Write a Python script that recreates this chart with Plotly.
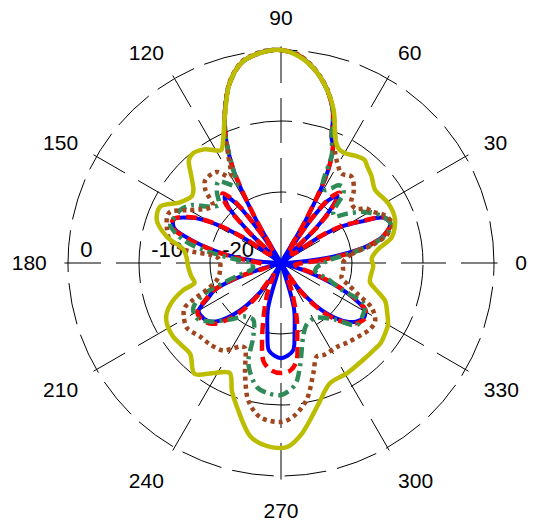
import plotly.graph_objects as go

# ---------------- data (dB) ----------------
theta_blue = [0, 4, 7, 11, 15, 20, 24, 27, 31, 34, 38, 42, 45, 47.5, 50, 53, 55.5, 58,
              60, 63, 66, 68, 71, 75, 80, 85, 90, 95, 101, 106, 111, 114, 117, 120, 122,
              124, 127, 130, 133, 136, 139, 143, 146, 149.5, 153, 158, 162, 166, 171.5, 176,
              180, 190, 196, 198, 202, 206, 210, 213, 218, 222, 227, 231, 236, 243,
              250, 254, 259, 262, 266, 270, 274, 278, 281, 286, 290,
              297, 304, 309, 313, 318, 322, 327, 331, 334, 338, 342, 346, 360]
r_blue = [-30, -27.3, -22.6, -17.7, -15, -13.6, -14.3, -17, -20, -23.4, -30, -30, -23, -19.5, -17.6, -19, -23, -30,
          -23, -15.5, -12, -11, -7.5, -4.8, -2.4, -0.7, 0, -0.2, -1.2, -3.7, -7.9, -11, -15.2, -23, -30,
          -25, -19.5, -17.7, -19, -24, -30, -30, -24, -19, -16, -13.7, -14.2, -17.3, -22.3, -27,
          -30, -30, -30, -24.5, -20, -18.5, -16.6, -16.5, -16.8, -17.7, -20, -22.4, -26, -30,
          -30, -23.4, -20, -17.6, -16.9, -16.6, -16.9, -17.6, -20, -23.4, -30,
          -30, -26, -22.4, -20, -17.7, -16.6, -16, -16.6, -18.5, -22, -26, -30, -30]

theta_red = [0, 4, 7, 11, 15, 20, 24, 27, 31, 34, 38, 42, 45, 47.5, 50, 53, 55.5, 58,
             60, 63, 66, 68, 71, 75, 80, 85, 90, 95, 101, 106, 111, 114, 117, 120, 122,
             124, 127, 130, 133, 136, 139, 143, 146, 149.5, 153, 158, 162, 166, 171.5, 176,
             180, 190, 196, 198, 202, 206, 210, 213, 218, 222, 227, 231, 234,
             238, 244, 250, 256, 260, 265, 270, 275, 279, 282, 286, 291, 296,
             300, 304, 309, 313, 318, 322, 327, 331, 334, 338, 342, 346, 353, 360]
r_red = [-27, -24.5, -21.5, -17.5, -15, -13.5, -14.2, -16.8, -19.8, -23, -28, -28, -22.5, -19, -17.1, -18.5, -22.5, -28,
         -23, -15.5, -12, -11, -7.5, -4.8, -2.4, -0.7, 0, -0.2, -1.2, -3.7, -7.9, -11, -15.2, -23, -28,
         -24.5, -19, -17.2, -18.5, -23.5, -28, -28, -23.5, -18.8, -15.8, -13.6, -14, -17, -22, -25.5,
         -27, -28, -28, -24, -19.8, -18.2, -16.4, -16.2, -16.5, -17.2, -19.2, -21.5, -24,
         -28, -26, -23.3, -19, -15.9, -14.8, -14.5, -14.8, -16, -19, -22, -25.8, -28,
         -28, -25.5, -22, -19.5, -17.3, -16.3, -15.8, -16.4, -18.2, -21.5, -25, -27.5, -28, -27]

theta_green = [0, 4, 8, 12, 16, 20, 25, 29, 32.4, 37, 41, 44.4, 48.2, 51, 53.7, 56, 58.9, 62, 65,
               68, 71, 75, 80, 85, 90, 95, 101, 106, 111, 114, 117, 120, 124.3, 127.6, 132, 137,
               142.3, 147, 152, 156.4, 161, 166.8, 171, 176, 180, 185, 191, 196, 198.6, 202.2,
               207.2, 213, 219.4, 228, 236, 244, 249.4, 252, 259, 264, 270, 276.5, 280.4, 286.8,
               292.6, 301.7, 313.6, 320.8, 328.7, 333.6, 336.3, 341, 346, 352, 360]
r_green = [-24, -23, -20, -16.5, -14.3, -13.6, -14.3, -15.5, -16.5, -18.5, -20, -19.7, -16.8, -16.2, -16.4, -17.3, -18, -17.5, -13,
           -11, -7.5, -4.8, -2.4, -0.7, 0, -0.2, -1.2, -3.7, -7.9, -11, -15, -17.5, -16.4, -15.5, -16.5, -18,
           -17, -15, -14, -13.7, -13.5, -15.9, -19.5, -24, -26, -26, -26, -24, -21.9, -18.2,
           -16.1, -15.8, -17, -19.3, -20.9, -21.1, -18.9, -15.1, -12.2, -11.6, -11.4, -12.7, -15.2, -19.2,
           -20.6, -20.9, -19, -16.2, -16.4, -16.8, -20.7, -23, -25, -25, -24]

theta_brown = [0, 7, 11, 15, 20, 25, 29.5, 32.5, 36, 40.5, 45, 50.7, 55.9, 60, 63.8, 66,
               71, 75, 80, 85, 90, 95, 101, 106, 111, 114, 116, 120.6, 125.2, 132.5, 136, 140,
               144, 150.7, 155.2, 158, 163, 168.3, 172, 174.5, 178.4, 185, 193.5, 199.6, 202.8,
               205, 208.6, 214.6, 222.3, 229, 236.4, 241, 244.5, 247, 251.9, 256.6, 262.2, 270,
               274.6, 280.6, 286.5, 290.9, 295.6, 303.6, 310, 318.4, 323, 328.2, 333.6, 337.7,
               342, 346, 353.6, 360]
r_brown = [-21.3, -20, -17, -14.5, -13.4, -14, -15.3, -15.7, -17, -17, -15.5, -14.3, -14.8, -14, -12.7, -11.2,
           -7.4, -4.7, -2.3, -0.6, 0, -0.1, -1.1, -3.6, -7.8, -10.8, -13, -15.9, -14.3, -14.2, -15.2, -17.5,
           -17, -14.8, -12.8, -12.7, -13.2, -14, -16.1, -20.9, -21.4, -21.4, -20.9, -19, -16.5,
           -15, -14.4, -13.9, -14.6, -14.8, -15.2, -16.3, -17, -17, -13.7, -10.1, -8.1, -7.6,
           -8.3, -10.4, -13.9, -15.9, -15.7, -15.8, -15.4, -14.8, -14.4, -14.4, -15.7, -18.2,
           -20, -21.2, -21.2, -21.3]

theta_yellow = [0, 3, 8, 13, 21, 29, 38, 44, 48, 51, 55, 60, 63, 66, 71, 75, 80, 85, 90, 95,
                101, 106, 111, 116, 118, 124, 129, 132, 135, 140, 143, 149, 155, 161, 167, 172,
                177, 182, 188, 193, 195.5, 201, 206, 214, 219, 225, 232, 238, 245, 249, 253,
                260, 266, 272, 277, 285, 292, 301, 309, 316, 321, 326, 330, 335, 340, 344,
                348, 353, 358, 360]
r_yellow = [-17.1, -17.2, -16.2, -14.0, -12.8, -12.7, -13.2, -12.3, -11.8, -11.3, -11.6, -12.1, -12.0, -11.1, -7.2, -4.8, -2.4, -0.8, 0, -0.2,
            -1.2, -3.7, -7.9, -11.3, -12, -10.7, -10.2, -10.6, -12, -13.9, -14.3, -13.4, -11.2, -11.5, -13.5, -16.1,
            -16.7, -16.9, -17.2, -17.5, -15.7, -13.2, -12, -11.6, -11.8, -11.9, -10.2, -11.7, -12.9, -10.7, -8.8,
            -5.2, -4.1, -4.1, -5.8, -9.5, -11.7, -11.9, -12.1, -12.1, -12, -12.3, -12.6, -13.5, -14.4, -16,
            -17.2, -17.2, -17, -17.1]

angle_ticks = [0, 30, 60, 90, 120, 150, 180, 210, 240, 270, 300, 330]
radial_ticks = [-20, -10, 0]
radial_labels = ["-20", "-10", "0"]
r_min, r_max = -30, 0.5   # small headroom so the 0 dB circle is drawn

# ---------------- figure ----------------
FONT = "Liberation Sans, Arial, sans-serif"
fig = go.Figure()

# radial tick labels, left-aligned just inside each circle along the 180 spoke
fig.add_trace(go.Scatterpolar(
    r=radial_ticks, theta=[180] * len(radial_ticks), mode="text",
    text=["\u00a0\u00a0" + t for t in radial_labels], textposition="top right",
    textfont=dict(family=FONT, size=22, color="black"),
    showlegend=False, hoverinfo="skip",
))

series = [
    (theta_blue, r_blue, "#0000FF", 4, "solid"),
    (theta_red, r_red, "#FF0000", 4.5, "11px,6px"),
    (theta_green, r_green, "#2E8B57", 4.5, "11px,5px,3px,5px"),
    (theta_brown, r_brown, "#A0461E", 4.5, "4px,4px"),
    (theta_yellow, r_yellow, "#BDBD00", 4.5, "solid"),
]
for th, rr, col, w, dash in series:
    fig.add_trace(go.Scatterpolar(
        r=rr, theta=th, mode="lines",
        line=dict(color=col, width=w, dash=dash, shape="spline", smoothing=0.9),
        showlegend=False, hoverinfo="skip",
    ))

# polar placed so that the 0 dB circle has radius ~213 px around (281, 263)
R0 = 213 * (r_max - r_min) / (0 - r_min)
cx, cy = 281, 524 - 263
fig.update_layout(
    width=548, height=524,
    margin=dict(l=0, r=0, t=0, b=0),
    paper_bgcolor="white",
    showlegend=False,
    polar=dict(
        domain=dict(x=[(cx - R0) / 548, (cx + R0) / 548], y=[(cy - R0) / 524, (cy + R0) / 524]),
        bgcolor="white",
        radialaxis=dict(
            range=[r_min, r_max], tickvals=radial_ticks, showticklabels=False,
            angle=180, showline=False, ticks="",
            showgrid=True, gridcolor="black", gridwidth=1, griddash="42px,11px",
        ),
        angularaxis=dict(
            tickvals=angle_ticks, ticktext=[str(a) for a in angle_ticks],
            direction="counterclockwise", rotation=0,
            showline=False, ticks="outside", ticklen=13, tickcolor="rgba(0,0,0,0)",
            showgrid=True, gridcolor="black", gridwidth=1, griddash="45px,15px",
            tickfont=dict(family=FONT, size=21, color="black"),
        ),
    ),
)

fig.write_html("out.html", config={"displayModeBar": False},
               post_script="document.body.style.margin='0px';")
